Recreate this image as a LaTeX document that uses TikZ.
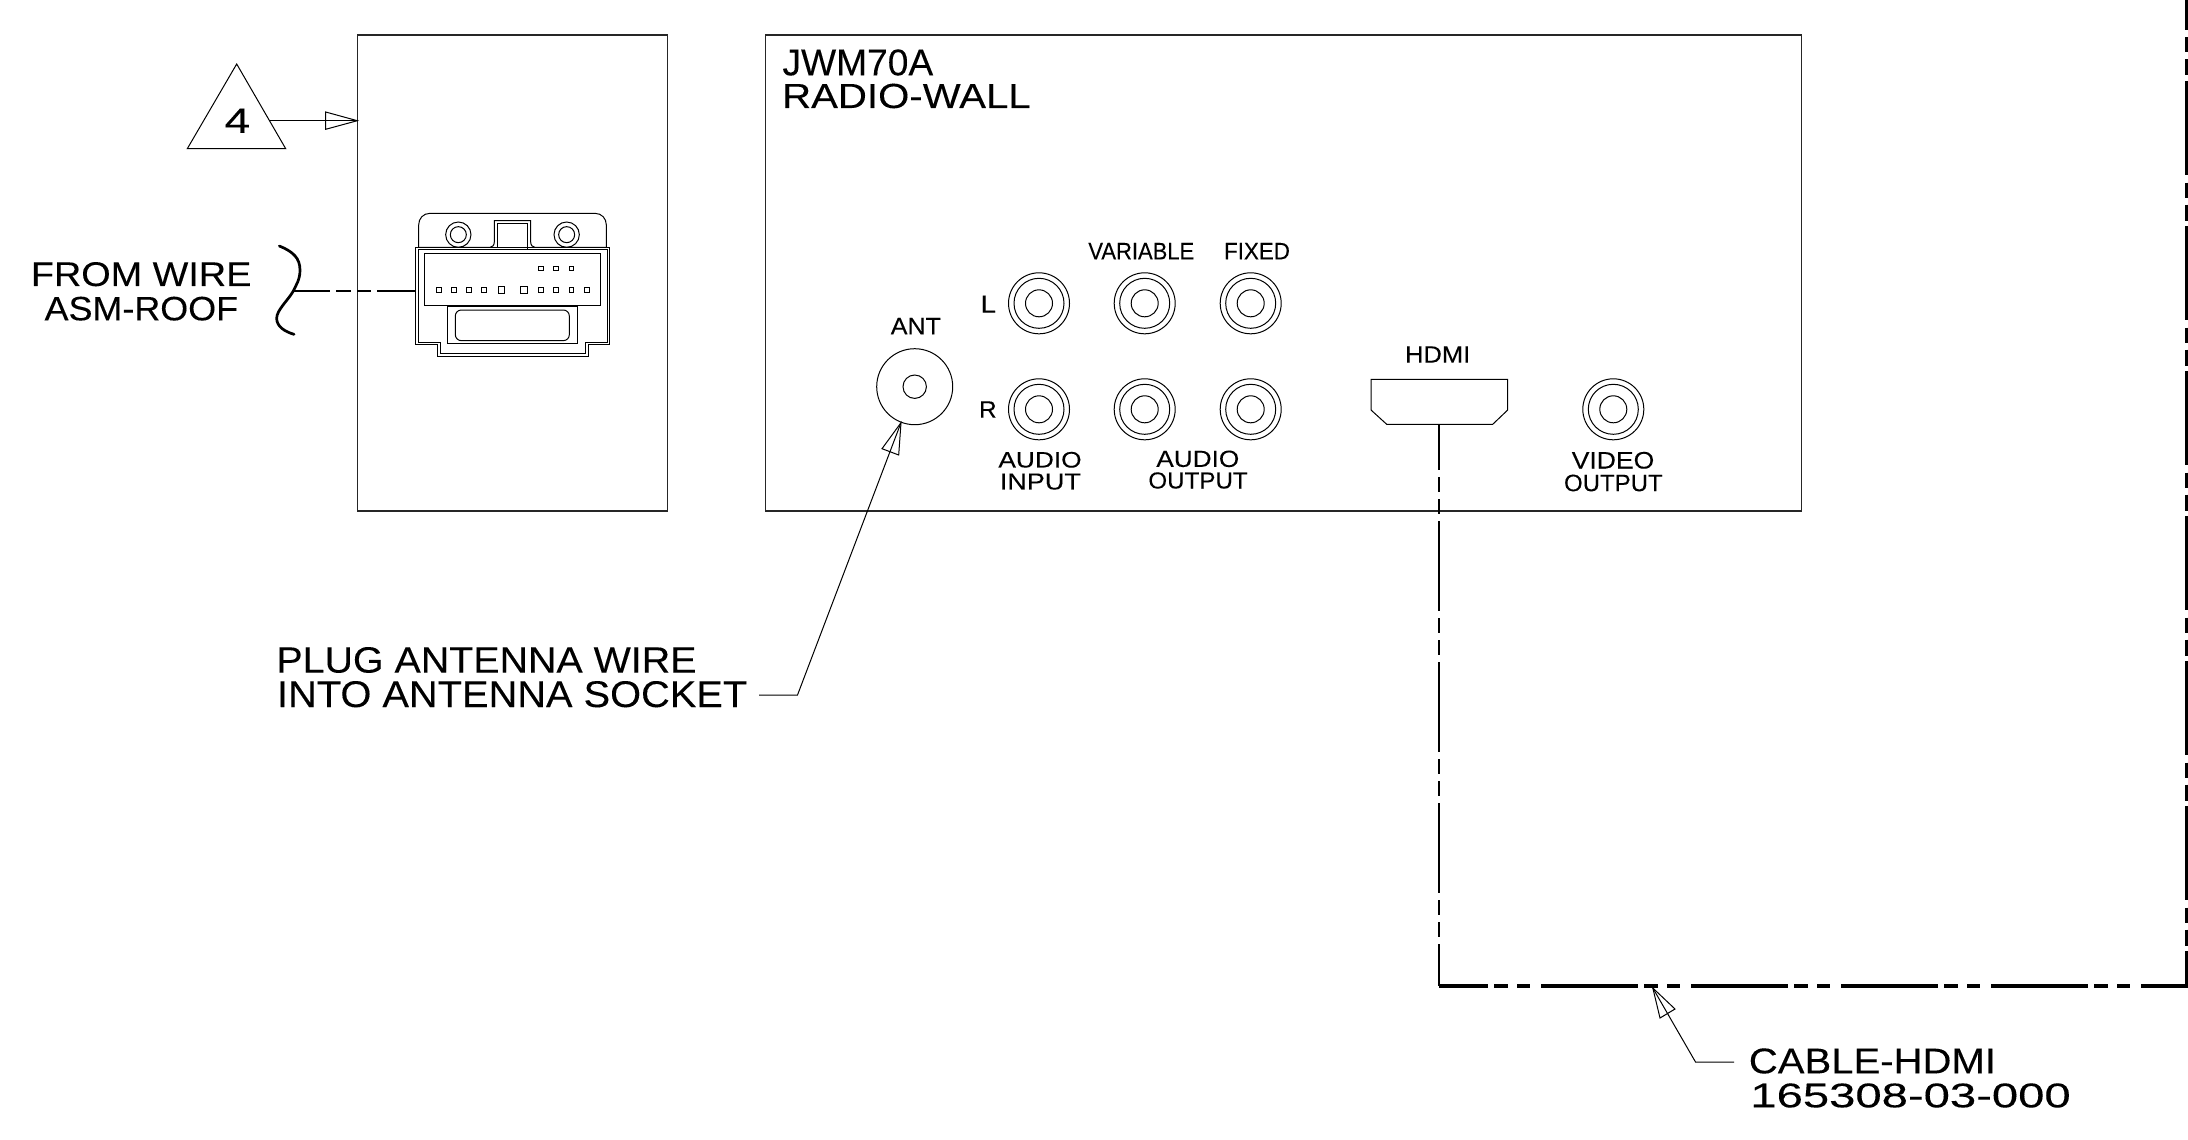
\documentclass[tikz,border=0pt]{standalone}
\usepackage{graphicx}
\usepackage{fontspec}
\setmainfont{Liberation Sans}[FakeBold=0.12]
\tikzset{
  txt/.style={inner sep=0pt,outer sep=0pt,text=black},
  thin line/.style={draw=black,line width=1pt},
  jack/.style={circle,draw=black,line width=1pt,inner sep=0pt,minimum size=61pt,outer sep=0pt},
  panel/.style={rectangle,draw=black!85,line width=1.1pt,inner sep=0pt,outer sep=0pt},
  pin/.style={draw=black,line width=0.9pt},
  cable v/.style={draw=black,line width=2.3pt},
}
\newcommand\lab[6]{\pgfmathsetmacro\lw{#4-#2+0.12*(#5-#3)}\pgfmathsetmacro\lh{1.04*(#5-#3)}%
  \node[txt] (#1) at ({(#2+#4)/2},{(#3+#5)/2}) {\resizebox{\lw pt}{\lh pt}{#6}};}
\newcommand\jackat[3]{\node[jack] (#1) at (#2,#3) {};
  \draw[thin line] (#1.center) circle[radius=25pt];
  \draw[thin line] (#1.center) circle[radius=13.5pt];}
\newcommand\pinat[3]{\draw[pin] (#1-#3,#2-#3) rectangle (#1+#3,#2+#3);}
\begin{document}
\begin{tikzpicture}[x=1pt,y=-1pt]
\useasboundingbox (0,0) rectangle (2188,1140);
\fill[white] (0,0) rectangle (2188,1140);

% panels
\node[panel,minimum width=309.5pt,minimum height=476pt] (box1) at (512.5,273) {};
\node[panel,minimum width=1036pt,minimum height=476pt] (box2) at (1283.5,273) {};

% triangle 4
\coordinate (triA) at (236.7,64);
\coordinate (triB) at (285.7,148.7);
\coordinate (triC) at (187.3,148.7);
\draw[thin line,line join=miter] (triA) -- (triB) -- (triC) -- cycle;
\lab{four}{226}{109}{248.7}{132.3}{4}
\coordinate (triOut) at (270,120.7);
\coordinate (boxIn) at (357.3,120.7);
\draw[thin line] (triOut) -- (boxIn);
\draw[thin line] (boxIn) -- (325.7,112) -- (325.7,129.3) -- cycle;

% labels
\lab{fromwire}{32.3}{262.7}{250}{285.7}{FROM WIRE}
\lab{asmroof}{46}{297.3}{236.7}{320}{ASM-ROOF}
\lab{jwm}{784}{50}{931.7}{75}{JWM70A}
\lab{radio}{783.5}{84.3}{1029.3}{107.7}{RADIO-WALL}
\lab{ant}{891.7}{318.3}{940}{334}{ANT}
\lab{lL}{981.7}{296}{995}{312.3}{L}
\lab{lR}{980}{401.7}{995.7}{417.3}{R}
\lab{variable}{1089.3}{243.3}{1193.3}{259}{VARIABLE}
\lab{fixed}{1225}{243.3}{1289}{259}{FIXED}
\lab{audioA}{999.3}{452.3}{1080.7}{467.3}{AUDIO}
\lab{inputA}{1000.7}{474}{1080}{489.3}{INPUT}
\lab{audioB}{1157.3}{451}{1238.3}{466.7}{AUDIO}
\lab{outputB}{1149.3}{472.7}{1246.7}{488.3}{OUTPUT}
\lab{hdmi}{1406}{346.7}{1469.3}{362.3}{HDMI}
\lab{video}{1572.7}{452.3}{1653.3}{468.3}{VIDEO}
\lab{outputC}{1565}{475}{1661.7}{491}{OUTPUT}
\lab{plug}{277.9}{647.7}{695}{672.3}{PLUG ANTENNA WIRE}
\lab{into}{278.6}{681.7}{745.7}{706.7}{INTO ANTENNA SOCKET}
\lab{cableh}{1750.3}{1049}{1994.5}{1073}{CABLE-HDMI}
\lab{partno}{1751.8}{1084}{2069.3}{1107}{165308-03-000}

% jacks
\jackat{jIL}{1039}{303.3}
\jackat{jVL}{1144.7}{303.3}
\jackat{jFL}{1250.7}{303.3}
\jackat{jIR}{1039}{409.3}
\jackat{jVR}{1144.7}{409.3}
\jackat{jFR}{1250.7}{409.3}
\jackat{jVid}{1613.3}{409.3}

% antenna socket
\node[circle,draw=black,line width=1pt,inner sep=0pt,minimum size=76pt,outer sep=0pt] (socket) at (914.7,386.7) {};
\draw[thin line] (socket.center) circle[radius=11.7pt];
\coordinate (antTip) at (901,422.7);
\coordinate (antBend) at (797.5,695);
\coordinate (antEnd) at (759,695);
\draw[thin line] (antEnd) -- (antBend) -- (antTip);
\draw[thin line] (antTip) -- (882,448.7) -- (898.7,455) -- cycle;

% HDMI port
\draw[thin line,line join=miter] (1371,379.3) -- (1507.7,379.3) -- (1507.7,410) -- (1492.7,424.3) -- (1386.7,424.3) -- (1371,410) -- cycle;
\coordinate (hdmiB) at (1439.3,424.3);
\coordinate (corner) at (1439.3,986);
\coordinate (cornerR) at (2187.5,986);
\coordinate (topR) at (2186.5,0);
\coordinate (botR) at (2186.5,986);
\draw[cable v,dash pattern=on 90pt off 7pt on 15pt off 7pt on 15pt off 7pt,dash phase=44.3pt] (hdmiB) -- (corner);
\draw[cable v,dash pattern=on 94pt off 7.5pt on 15pt off 7pt on 16pt off 5.5pt,dash phase=64pt] (topR) -- (botR);
\draw[draw=black,line width=3.6pt,dash pattern=on 97pt off 6pt on 14pt off 9pt on 13pt off 11pt,dash phase=48pt] (corner) -- (cornerR);

% cable callout
\coordinate (cabTip) at (1652.8,988);
\coordinate (cabBend) at (1695.5,1062);
\coordinate (cabEnd) at (1734,1062);
\draw[thin line] (cabEnd) -- (cabBend) -- (cabTip);
\draw[thin line] (cabTip) -- (1675,1009) -- (1660,1018) -- cycle;

% connector (coordinates in the crop's 3x frame)
\begin{scope}[shift={(260,190)},x=0.33333pt,y=-0.33333pt]
  \draw[thin line,line join=miter] (466,172) -- (1049,172) -- (1049,463) -- (984,463) -- (984,499) -- (532,499) -- (532,463) -- (466,463) -- cycle;
  \draw[thin line,line join=miter] (475,178) -- (1041,178) -- (1041,457) -- (976,457) -- (976,490) -- (541,490) -- (541,457) -- (475,457) -- cycle;
  \draw[thin line] (476,172) -- (476,105) .. controls (476,85) and (490,70) .. (510,70) -- (1005,70) .. controls (1025,70) and (1039,85) .. (1039,105) -- (1039,172);
  \draw[thin line] (476,172) -- (690,172) .. controls (698,172) and (703,165) .. (703,155) -- (703,92) -- (812,92) -- (812,155) .. controls (812,165) and (817,172) .. (825,172) -- (1039,172);
  \draw[thin line] (712,172) -- (712,100) -- (803,100) -- (803,178);
  \draw[thin line] (595,134) circle[radius=38];
  \draw[thin line] (595,134) circle[radius=24];
  \draw[thin line] (920,134) circle[radius=38];
  \draw[thin line] (920,134) circle[radius=24];
  \draw[thin line] (493,189) rectangle (1022,346);
  \draw[thin line] (562,349) rectangle (953,460);
  \draw[thin line,rounded corners=6pt] (586,360) rectangle (928,452);
  \foreach \px in {536,581,627,672,843,888,934,980} {\pinat{\px}{299}{7}}
  \foreach \px in {724,792} {\pinat{\px}{299}{10}}
  \foreach \px in {843,888,934} {\pinat{\px}{235}{7}}
  \coordinate (sqMid) at (100,303);
  \coordinate (connW) at (466,303);
  \draw[draw=black,line width=1.8pt,dash pattern=on 40pt off 6pt on 15pt off 6pt on 14pt off 6pt,dash phase=3pt] (sqMid) -- (connW);
  \draw[draw=black,line width=2.7pt,line cap=round] (58,168) .. controls (100,185) and (120,205) .. (120,240) .. controls (120,270) and (108,285) .. (sqMid) .. controls (85,330) and (50,360) .. (50,385) .. controls (50,410) and (75,425) .. (102,433);
\end{scope}
\end{tikzpicture}
\end{document}
